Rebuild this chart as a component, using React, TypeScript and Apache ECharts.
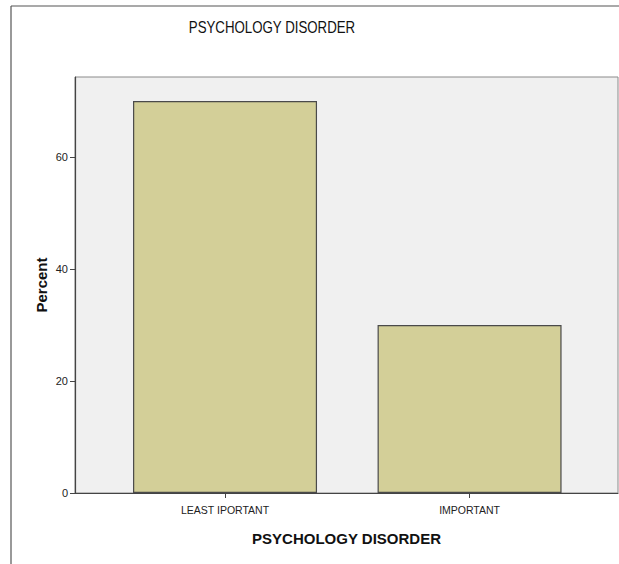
import React, { useEffect, useRef } from "react";
import * as echarts from "echarts";

const categories = ["LEAST IPORTANT", "IMPORTANT"];
const percentValues = [70, 30];
const yTickValues = [0, 20, 40, 60];
const chartTitle = "PSYCHOLOGY DISORDER";
const xAxisTitle = "PSYCHOLOGY DISORDER";
const yAxisTitle = "Percent";

const SANS = "'Liberation Sans', Arial, sans-serif";

export default function App() {
  const ref = useRef<HTMLDivElement>(null);
  useEffect(() => {
    if (!ref.current) return;
    const chart = echarts.init(ref.current, undefined, { renderer: "svg" });
    const data = percentValues.map((v, i) => [i, v]);
    chart.setOption({
      animation: false,
      backgroundColor: "#ffffff",
      grid: {
        left: 75,
        top: 77,
        right: 1,
        bottom: 71,
        show: true,
        backgroundColor: "#F0F0F0",
        borderColor: "#8a8a8a",
        borderWidth: 1,
      },
      graphic: [
        { type: "line", shape: { x1: 11, y1: 6, x2: 619, y2: 6 }, style: { stroke: "#555", lineWidth: 1.2 } },
        { type: "line", shape: { x1: 11, y1: 6, x2: 11, y2: 564 }, style: { stroke: "#555", lineWidth: 1.2 } },
        {
          type: "text",
          x: 272,
          y: 28,
          scaleX: 0.83,
          style: {
            text: chartTitle,
            font: `normal 16px ${SANS}`,
            fill: "#111",
            align: "center",
            verticalAlign: "middle",
          },
        },
      ],
      xAxis: {
        type: "value",
        min: -0.6135,
        max: 1.607,
        name: xAxisTitle,
        nameLocation: "middle",
        nameGap: 38,
        nameMoveOverlap: false,
        nameTextStyle: { fontFamily: SANS, fontWeight: "bold", fontSize: 15, color: "#111" },
        splitLine: { show: false },
        axisLine: { show: true, onZero: false, lineStyle: { color: "#444", width: 1.2 } },
        axisTick: { show: true, customValues: [0, 1], length: 5, lineStyle: { color: "#444" } },
        axisLabel: {
          customValues: [0, 1],
          formatter: (v: number) => categories[Math.round(v)] ?? "",
          fontFamily: SANS,
          fontSize: 10.5,
          color: "#222",
          margin: 11,
        },
      },
      yAxis: {
        type: "value",
        min: 0,
        max: 74.3,
        name: yAxisTitle,
        nameLocation: "middle",
        nameRotate: 90,
        nameGap: 26,
        nameMoveOverlap: false,
        nameTextStyle: { fontFamily: SANS, fontWeight: "bold", fontSize: 15, color: "#111" },
        splitLine: { show: false },
        axisLine: { show: true, onZero: false, lineStyle: { color: "#444", width: 1.2 } },
        axisTick: { show: true, customValues: yTickValues, length: 5, lineStyle: { color: "#444" } },
        axisLabel: {
          customValues: yTickValues,
          fontFamily: SANS,
          fontSize: 11,
          color: "#222",
          margin: 7,
        },
      },
      series: [
        {
          type: "bar",
          data,
          barWidth: 184,
          itemStyle: { color: "#D3CF98", borderColor: "#4a4a4a", borderWidth: 1.2 },
        },
      ],
    });
    return () => chart.dispose();
  }, []);
  return <div ref={ref} style={{ position: "fixed", left: 0, top: 0, width: 619, height: 564 }} />;
}
